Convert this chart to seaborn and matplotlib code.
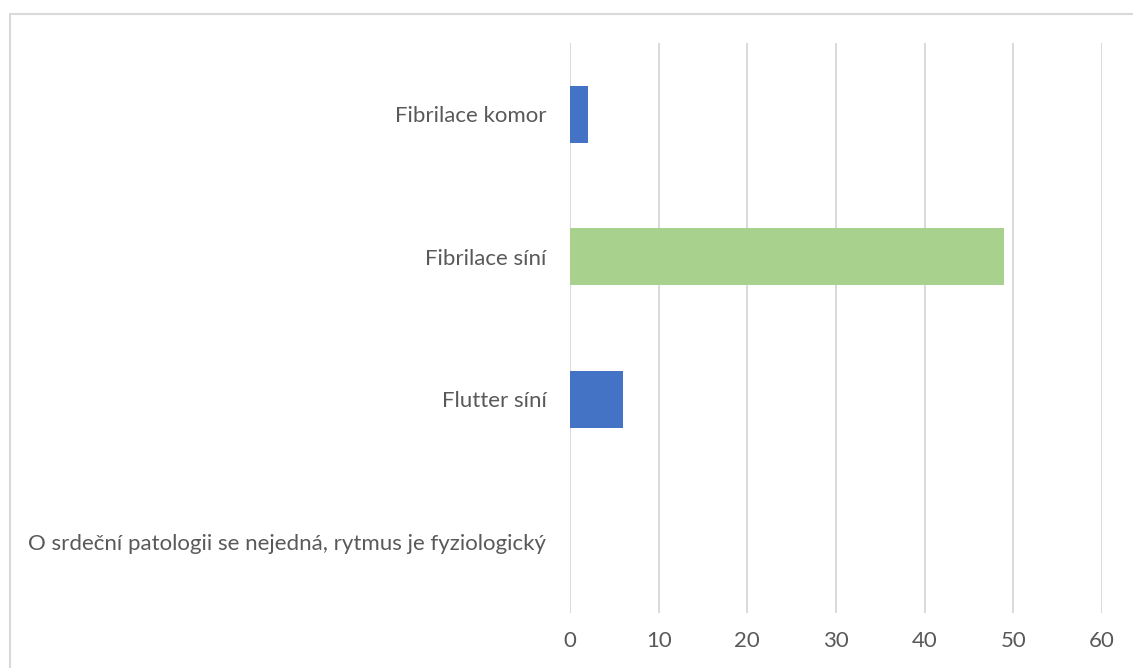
import pandas as pd
import matplotlib.pyplot as plt
import seaborn as sns
from matplotlib.patches import Rectangle

# Data
categories = ["Fibrilace komor", "Fibrilace síní", "Flutter síní",
              "O srdeční patologii se nejedná, rytmus je fyziologický"]
values = [2, 49, 6, 0]
bar_colors = ["#4472C4", "#A9D18E", "#4472C4", "#4472C4"]
x_ticks = [0, 10, 20, 30, 40, 50, 60]

df = pd.DataFrame({"category": categories, "value": values})

sns.set_theme(style="white")
plt.rcParams['font.family'] = ['Lato', 'DejaVu Sans']

fig = plt.figure(figsize=(11.33, 6.68), dpi=100)
ax = fig.add_axes([0.5031, 0.0823, 0.4695, 0.8533])

sns.barplot(data=df, x="value", y="category", hue="category", palette=bar_colors,
            order=categories, hue_order=categories, width=0.4, legend=False,
            saturation=1, linewidth=0, ax=ax, zorder=3)

ax.set_xlim(0, 60)
ax.set_ylim(3.5, -0.5)
ax.set_xticks(x_ticks)
ax.set_xlabel("")
ax.set_ylabel("")
ax.grid(axis="x", color="#D9D9D9", linewidth=1.4, zorder=0)
ax.grid(axis="y", visible=False)
for s in ax.spines.values():
    s.set_visible(False)
ax.tick_params(axis="x", length=0, pad=13, labelsize=16, labelcolor="#595959")
ax.tick_params(axis="y", length=0, pad=17, labelsize=16, labelcolor="#595959")

# light frame around the chart area
fig.patches.append(Rectangle((10 / 1133, -0.1), 1.2, (668 - 14) / 668 + 0.1,
                             transform=fig.transFigure, fill=False,
                             edgecolor="#D9D9D9", linewidth=1.5))

fig.savefig("out.png", dpi=100)
